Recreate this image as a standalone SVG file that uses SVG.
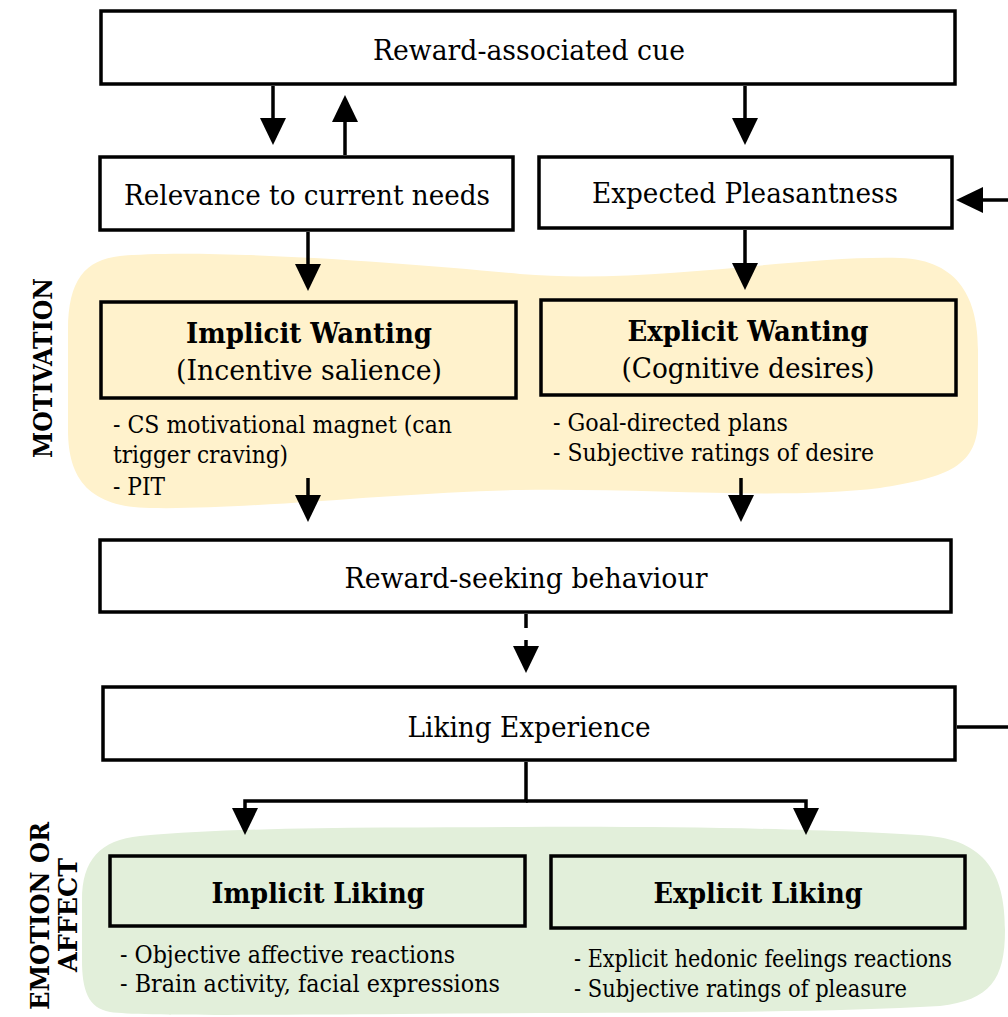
<svg xmlns="http://www.w3.org/2000/svg" width="1008" height="1017" viewBox="0 0 1008 1017">
  <style>
    .box { fill: #ffffff; stroke: #000000; stroke-width: 3.5; }
    .box-y { fill: #fff2cc; stroke: #000000; stroke-width: 3.5; }
    .box-g { fill: #e2efda; stroke: #000000; stroke-width: 3.5; }
    .lbl { font-family: "DejaVu Serif", "Liberation Serif", serif; font-size: 27px; fill: #000; text-anchor: middle; }
    .hd { font-family: "DejaVu Serif", "Liberation Serif", serif; font-size: 27px; font-weight: bold; fill: #000; text-anchor: middle; }
    .note { font-family: "DejaVu Serif", "Liberation Serif", serif; font-size: 24.5px; fill: #000; }
    .side { font-family: "DejaVu Serif", "Liberation Serif", serif; font-size: 26px; font-weight: bold; fill: #000; text-anchor: middle; }
    .wire { fill: none; stroke: #000; stroke-width: 3.5; }
    .dash { stroke-dasharray: 14 12; }
  </style>
  <defs>
    <marker id="head" markerUnits="userSpaceOnUse" markerWidth="28" markerHeight="26" refX="17" refY="13" orient="auto">
      <path d="M0,0 L27,13 L0,26 Z" fill="#000"/>
    </marker>
  </defs>

  <!-- background regions -->
  <g id="region-motivation">
    <path d="M120,256 C200,248 400,262 520,274 C650,285 800,255 900,258 C960,260 978,300 978,350 L978,420 C978,470 940,478 880,488 C780,500 650,488 520,490 C400,492 250,510 150,508 C90,507 68,480 68,430 L68,330 C68,280 85,260 120,256 Z" fill="#fff2cc"/>
    <text class="side" transform="translate(52,368) rotate(-90)" textLength="180" lengthAdjust="spacingAndGlyphs">MOTIVATION</text>
  </g>
  <g id="region-affect">
    <path d="M140,836 C250,826 400,828 520,827 C700,826 850,830 930,836 C990,842 1005,880 1005,930 C1005,980 990,1000 940,1006 C800,1014 600,1012 400,1014 C250,1015 140,1016 110,1012 C88,1008 82,990 82,960 L82,900 C82,860 100,840 140,836 Z" fill="#e2efda"/>
    <text class="side" transform="translate(49,916) rotate(-90)" textLength="188" lengthAdjust="spacingAndGlyphs">EMOTION OR</text>
    <text class="side" transform="translate(77,915) rotate(-90)" textLength="114" lengthAdjust="spacingAndGlyphs">AFFECT</text>
  </g>

  <!-- connectors -->
  <g id="connectors">
    <line class="wire" x1="273" y1="86" x2="273" y2="135" marker-end="url(#head)"/>
    <line class="wire" x1="345" y1="155" x2="345" y2="105" marker-end="url(#head)"/>
    <line class="wire" x1="745" y1="86" x2="745" y2="135" marker-end="url(#head)"/>
    <path class="wire" d="M957,727 H1012 V200 H966" marker-end="url(#head)"/>
    <line class="wire" x1="308" y1="232" x2="308" y2="281" marker-end="url(#head)"/>
    <line class="wire" x1="745" y1="230" x2="745" y2="280" marker-end="url(#head)"/>
    <line class="wire" x1="308" y1="478" x2="308" y2="512" marker-end="url(#head)"/>
    <line class="wire" x1="741" y1="478" x2="741" y2="512" marker-end="url(#head)"/>
    <line class="wire dash" x1="526" y1="614" x2="526" y2="663" marker-end="url(#head)"/>
    <path class="wire" d="M526,762 V801 H245 V825" marker-end="url(#head)"/>
    <path class="wire" d="M526,801 H806 V825" marker-end="url(#head)"/>
  </g>

  <!-- nodes -->
  <g id="cue">
    <rect class="box" x="101" y="11" width="854" height="73"/>
    <text class="lbl" x="529" y="60" textLength="312" lengthAdjust="spacingAndGlyphs">Reward-associated cue</text>
  </g>
  <g id="relevance">
    <rect class="box" x="100" y="157" width="413" height="73"/>
    <text class="lbl" x="307" y="205" textLength="366" lengthAdjust="spacingAndGlyphs">Relevance to current needs</text>
  </g>
  <g id="expected">
    <rect class="box" x="539" y="157" width="413" height="71"/>
    <text class="lbl" x="745" y="203" textLength="306" lengthAdjust="spacingAndGlyphs">Expected Pleasantness</text>
  </g>
  <g id="implicit-wanting">
    <rect class="box-y" x="101" y="302" width="415" height="96"/>
    <text class="hd" x="309" y="343" textLength="246" lengthAdjust="spacingAndGlyphs">Implicit Wanting</text>
    <text class="lbl" x="309" y="380" textLength="266" lengthAdjust="spacingAndGlyphs">(Incentive salience)</text>
    <text class="note" x="113" y="433" textLength="339" lengthAdjust="spacingAndGlyphs">- CS motivational magnet (can</text>
    <text class="note" x="113" y="463" textLength="175" lengthAdjust="spacingAndGlyphs">trigger craving)</text>
    <text class="note" x="113" y="495" textLength="52" lengthAdjust="spacingAndGlyphs">- PIT</text>
  </g>
  <g id="explicit-wanting">
    <rect class="box-y" x="541" y="300" width="415" height="95"/>
    <text class="hd" x="748" y="341" textLength="241" lengthAdjust="spacingAndGlyphs">Explicit Wanting</text>
    <text class="lbl" x="748" y="378" textLength="253" lengthAdjust="spacingAndGlyphs">(Cognitive desires)</text>
    <text class="note" x="553" y="431" textLength="235" lengthAdjust="spacingAndGlyphs">- Goal-directed plans</text>
    <text class="note" x="553" y="461" textLength="321" lengthAdjust="spacingAndGlyphs">- Subjective ratings of desire</text>
  </g>
  <g id="seeking">
    <rect class="box" x="100" y="540" width="851" height="72"/>
    <text class="lbl" x="526" y="588" textLength="363" lengthAdjust="spacingAndGlyphs">Reward-seeking behaviour</text>
  </g>
  <g id="liking-experience">
    <rect class="box" x="103" y="687" width="852" height="73"/>
    <text class="lbl" x="529" y="737" textLength="243" lengthAdjust="spacingAndGlyphs">Liking Experience</text>
  </g>
  <g id="implicit-liking">
    <rect class="box-g" x="110" y="856" width="415" height="70"/>
    <text class="hd" x="318" y="903" textLength="213" lengthAdjust="spacingAndGlyphs">Implicit Liking</text>
    <text class="note" x="120" y="963" textLength="335" lengthAdjust="spacingAndGlyphs">- Objective affective reactions</text>
    <text class="note" x="120" y="992" textLength="380" lengthAdjust="spacingAndGlyphs">- Brain activity, facial expressions</text>
  </g>
  <g id="explicit-liking">
    <rect class="box-g" x="551" y="856" width="414" height="72"/>
    <text class="hd" x="758" y="903" textLength="209" lengthAdjust="spacingAndGlyphs">Explicit Liking</text>
    <text class="note" x="574" y="967" textLength="378" lengthAdjust="spacingAndGlyphs">- Explicit hedonic feelings reactions</text>
    <text class="note" x="574" y="997" textLength="333" lengthAdjust="spacingAndGlyphs">- Subjective ratings of pleasure</text>
  </g>
</svg>
